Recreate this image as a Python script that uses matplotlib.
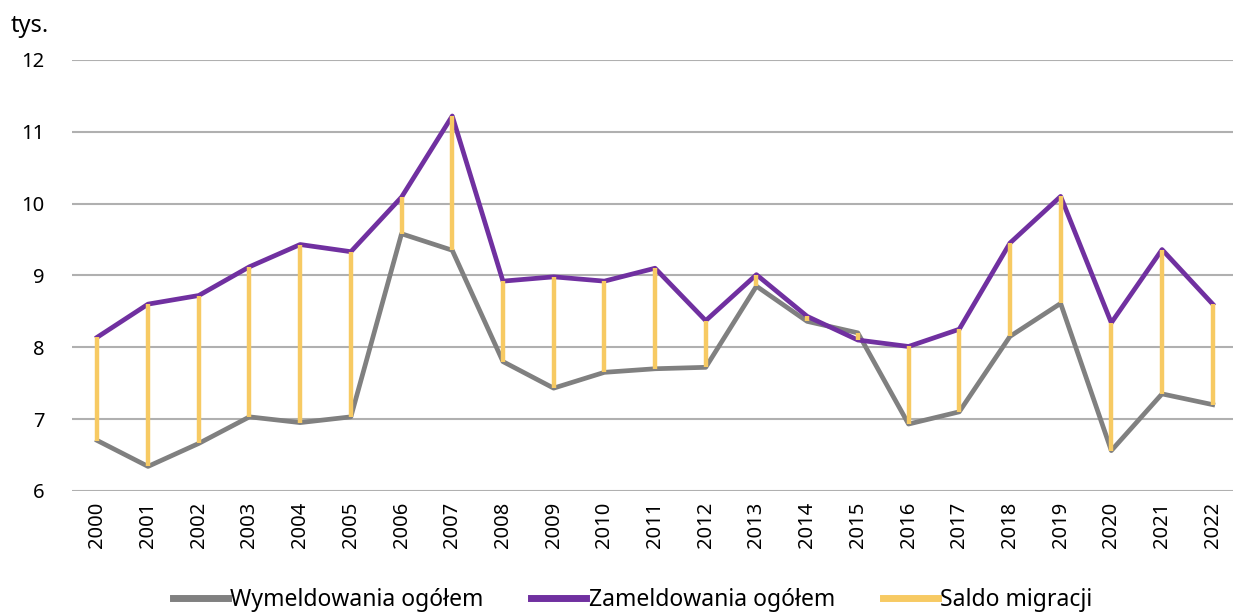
import numpy as np
import matplotlib
matplotlib.use("Agg")
import matplotlib.pyplot as plt
from matplotlib.lines import Line2D

# ── data (tys.) ─────────────────────────────────────────────────────────────
years = [str(y) for y in range(2000, 2023)]
zameldowania = [8.14, 8.60, 8.72, 9.12, 9.43, 9.33, 10.09, 11.22, 8.92, 8.98,
                8.92, 9.10, 8.37, 9.01, 8.43, 8.10, 8.01, 8.25, 9.45, 10.10,
                8.34, 9.36, 8.60]
wymeldowania = [6.70, 6.34, 6.66, 7.03, 6.95, 7.03, 9.58, 9.35, 7.80, 7.43,
                7.65, 7.70, 7.72, 8.85, 8.36, 8.20, 6.93, 7.10, 8.15, 8.61,
                6.56, 7.35, 7.20]
saldo = np.array(zameldowania) - np.array(wymeldowania)

GRAY = "#808080"
PURPLE = "#7030a0"
YELLOW = "#f7ca63"

plt.rcParams["font.family"] = ["Noto Sans", "DejaVu Sans"]

fig = plt.figure(figsize=(12.33, 6.12), dpi=100)
ax = fig.add_axes([0.0584, 0.198, 0.9416, 0.704])

x = np.arange(len(years))
ax.plot(x, wymeldowania, color=GRAY, lw=3.4, solid_joinstyle="round", zorder=3)
ax.plot(x, zameldowania, color=PURPLE, lw=3.4, solid_joinstyle="round", zorder=3)
# saldo as hi-lo lines between the two series
ax.vlines(x, np.array(wymeldowania), np.array(wymeldowania) + saldo,
          color=YELLOW, lw=3.2, zorder=4)

ax.set_xlim(-0.5, 22.4)
ax.set_ylim(6, 12)
ax.set_yticks(range(6, 13))
ax.set_xticks(x)
ax.set_xticklabels(years, rotation=90, fontsize=14.5)
ax.tick_params(axis="y", length=0, pad=20, labelsize=14.5)
ax.tick_params(axis="x", length=0, pad=8)
ax.grid(axis="y", color="#b0b0b0", lw=1.5, zorder=0)
for s in ax.spines.values():
    s.set_visible(False)

fig.text(0.009, 0.958, "tys.", fontsize=17, va="center", ha="left")

handles = [Line2D([], [], color=GRAY, lw=5),
           Line2D([], [], color=PURPLE, lw=5),
           Line2D([], [], color=YELLOW, lw=5)]
labels = ["Wymeldowania ogółem", "Zameldowania ogółem", "Saldo migracji"]
fig.legend(handles, labels, loc="center", bbox_to_anchor=(0.513, 0.02), ncol=3,
           frameon=False, fontsize=16.5, handlelength=2.4, handletextpad=0.1,
           columnspacing=2.1)

plt.savefig("out.png", dpi=100)
